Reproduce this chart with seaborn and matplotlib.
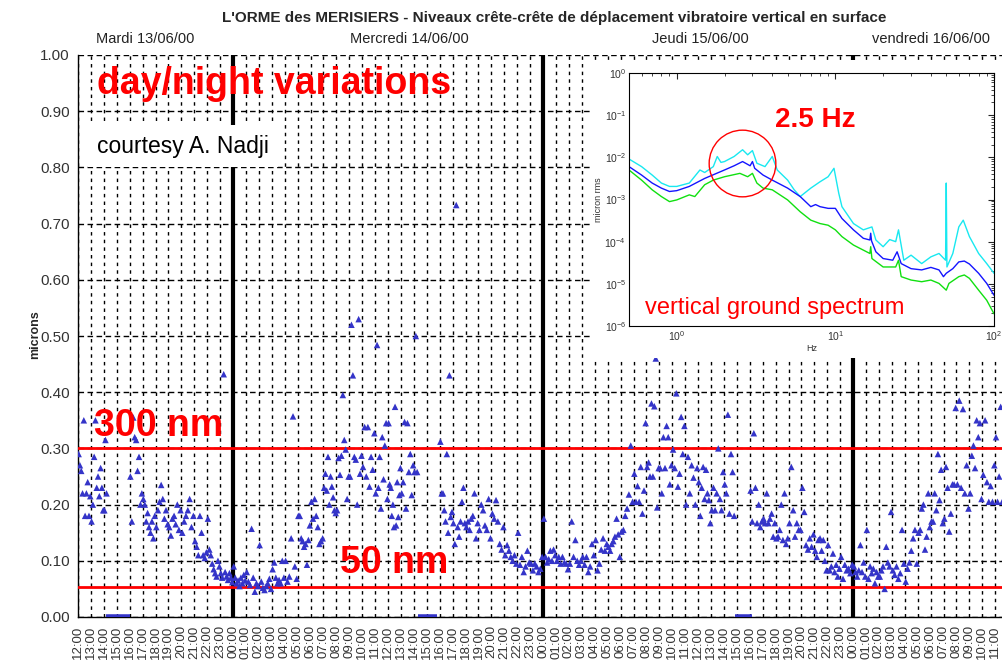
import numpy as np
import pandas as pd
import seaborn as sns
import matplotlib.pyplot as plt
from matplotlib.patches import Rectangle
from matplotlib.ticker import FixedLocator, LogLocator, NullFormatter

# peak-to-peak vertical displacement (microns), one list per hour, starting Tue 13/06 12:00
tue_pm = [
    [0.29, 0.27, 0.26, 0.22, 0.35, 0.18, 0.22, 0.24, 0.18, 0.215],
    [0.17, 0.20, 0.285, 0.35, 0.23, 0.25, 0.215, 0.265, 0.23, 0.19],
    [0.19, 0.315, 0.22],
    [],
    [0.25, 0.17, 0.355, 0.32, 0.315, 0.26, 0.285, 0.20, 0.22],
    [0.21, 0.20, 0.17, 0.185, 0.16, 0.15, 0.17, 0.14, 0.18],
    [0.16, 0.19, 0.205, 0.235, 0.21, 0.175, 0.19, 0.165],
    [0.16, 0.145, 0.175, 0.18, 0.165, 0.20, 0.155, 0.19],
    [0.15, 0.17, 0.18, 0.19, 0.21, 0.16, 0.18],
    [0.135, 0.125, 0.11, 0.18, 0.15, 0.11, 0.105, 0.115],
    [0.175, 0.12, 0.11, 0.095, 0.085, 0.078, 0.072, 0.10, 0.09],
    [0.078, 0.07, 0.432, 0.08, 0.072, 0.066, 0.078, 0.07, 0.062],
]
wed = [
    [0.09, 0.07, 0.06, 0.065, 0.055, 0.07, 0.06, 0.075, 0.065],
    [0.08, 0.063, 0.057, 0.157, 0.07, 0.045, 0.06, 0.055],
    [0.128, 0.063, 0.052, 0.048, 0.055, 0.06, 0.068, 0.05],
    [0.085, 0.097, 0.07, 0.06, 0.066, 0.06, 0.10, 0.07],
    [0.10, 0.063, 0.072, 0.14, 0.357, 0.09, 0.068],
    [0.18, 0.18, 0.14, 0.135, 0.125, 0.13, 0.093, 0.137, 0.163],
    [0.205, 0.175, 0.21, 0.18, 0.16, 0.13, 0.135, 0.14],
    [0.23, 0.255, 0.225, 0.285, 0.20, 0.25, 0.232, 0.213, 0.19, 0.185],
    [0.19, 0.283, 0.253, 0.287, 0.395, 0.315, 0.298, 0.21, 0.25],
    [0.25, 0.52, 0.43, 0.285, 0.28, 0.20, 0.53, 0.255, 0.287],
    [0.267, 0.338, 0.25, 0.338, 0.232, 0.285, 0.262, 0.327],
    [0.22, 0.484, 0.23, 0.285, 0.193, 0.32, 0.245, 0.305, 0.345, 0.21],
    [0.345, 0.236, 0.23, 0.18, 0.20, 0.16, 0.374, 0.163, 0.24, 0.178, 0.217, 0.265],
    [0.22, 0.24, 0.347, 0.193, 0.345, 0.258, 0.29, 0.217, 0.27],
    [0.258, 0.50, 0.258],
    [],
    [0.312, 0.22, 0.22, 0.19, 0.17, 0.29, 0.15, 0.43, 0.178, 0.187],
    [0.167, 0.13, 0.733, 0.16, 0.143, 0.17, 0.205, 0.23, 0.167],
    [0.16, 0.17, 0.155, 0.175, 0.18, 0.22, 0.14, 0.167],
    [0.155, 0.20, 0.19, 0.163, 0.155, 0.21, 0.14],
    [0.184, 0.175, 0.208, 0.17, 0.13, 0.12, 0.16],
    [0.11, 0.128, 0.118, 0.107, 0.10, 0.11, 0.095],
    [0.15, 0.093, 0.107, 0.08, 0.09, 0.118, 0.097],
    [0.095, 0.083, 0.095, 0.09, 0.08, 0.086, 0.107],
]
thu = [
    [0.175, 0.107, 0.097, 0.103, 0.118, 0.10, 0.12, 0.11],
    [0.10, 0.107, 0.095, 0.107, 0.097, 0.095, 0.085],
    [0.095, 0.17, 0.107, 0.137, 0.10, 0.093, 0.10],
    [0.107, 0.093, 0.107, 0.08, 0.09, 0.13, 0.11],
    [0.137, 0.083, 0.095, 0.12, 0.14, 0.118, 0.13],
    [0.125, 0.118, 0.13, 0.135, 0.143, 0.175, 0.147, 0.107],
    [0.152, 0.155, 0.18, 0.193, 0.218, 0.305, 0.205],
    [0.255, 0.205, 0.233, 0.205, 0.267, 0.184, 0.225, 0.345],
    [0.267, 0.275, 0.25, 0.38, 0.25, 0.375, 0.46, 0.195, 0.265],
    [0.265, 0.22, 0.32, 0.265, 0.34, 0.32, 0.236, 0.27],
    [0.298, 0.265, 0.398, 0.232, 0.255, 0.356, 0.29, 0.34],
    [0.20, 0.285, 0.22, 0.27, 0.248, 0.20, 0.265],
    [0.24, 0.18, 0.23, 0.267, 0.21, 0.262, 0.22, 0.208, 0.167],
    [0.19, 0.23, 0.19, 0.22, 0.30, 0.21, 0.19, 0.258],
    [0.236, 0.22, 0.36, 0.184, 0.29, 0.258, 0.18],
    [],
    [0.225, 0.17, 0.327, 0.23, 0.167, 0.20, 0.16, 0.17],
    [0.175, 0.167, 0.22, 0.167, 0.175, 0.184, 0.143, 0.167],
    [0.14, 0.143, 0.155, 0.20, 0.137, 0.22, 0.13, 0.14],
    [0.167, 0.267, 0.19, 0.143, 0.167, 0.155, 0.155],
    [0.23, 0.187, 0.128, 0.12, 0.14, 0.125, 0.147],
    [0.118, 0.107, 0.137, 0.14, 0.118, 0.137, 0.10, 0.083],
    [0.128, 0.083, 0.09, 0.113, 0.08, 0.093, 0.072, 0.086],
    [0.107, 0.068, 0.093, 0.083, 0.086, 0.078, 0.093],
]
fri_am = [
    [0.09, 0.08, 0.072, 0.083, 0.128, 0.08, 0.097, 0.072],
    [0.155, 0.068, 0.09, 0.078, 0.086, 0.06, 0.08, 0.072],
    [0.072, 0.083, 0.09, 0.05, 0.125, 0.097, 0.09, 0.187],
    [0.083, 0.075, 0.09, 0.068, 0.078, 0.155, 0.095],
    [0.063, 0.086, 0.097, 0.118, 0.14, 0.155, 0.095],
    [0.15, 0.155, 0.193, 0.20, 0.12, 0.143, 0.22, 0.16],
    [0.17, 0.17, 0.22, 0.19, 0.29, 0.208, 0.262, 0.167],
    [0.175, 0.267, 0.23, 0.152, 0.184, 0.236, 0.236, 0.372],
    [0.236, 0.385, 0.23, 0.37, 0.22, 0.27, 0.193],
    [0.22, 0.287, 0.305, 0.265, 0.35, 0.32, 0.345, 0.21],
    [0.253, 0.35, 0.24, 0.205, 0.233, 0.205, 0.27],
    [0.32, 0.205, 0.25, 0.374, 0.205],
]
# part of the hour that holds readings (data gaps / cut at the right edge)
hour_span = {2: 0.25, 26: 0.3, 50: 0.85, 71: 0.6}
# recorder gaps plotted at zero
gap_start = [2.2, 26.3, 50.85]
gap_end = [4.0, 27.8, 52.15]

hour_labels = [f"{(12 + h) % 24:02d}:00" for h in range(72)]
y_ticks = [0.0, 0.1, 0.2, 0.3, 0.4, 0.5, 0.6, 0.7, 0.8, 0.9, 1.0]
day_labels = ["Mardi 13/06/00", "Mercredi 14/06/00", "Jeudi 15/06/00", "vendredi 16/06/00"]

# inset: vertical ground spectrum, log10(micron rms)
cyan_f = [0.5, 0.6, 0.7, 0.8, 0.9, 1.0, 1.2, 1.4, 1.5, 1.7, 1.8, 1.9, 2.0, 2.3, 2.6, 2.8, 3.0, 3.2,
          3.6, 4.0, 4.3, 5.0, 5.5, 6.0, 7.0, 8.0, 9.0, 9.8, 10.5, 11, 13, 15, 17, 18, 20, 22, 24,
          25, 27, 30, 35, 40, 45, 49.5, 50, 50.5, 55, 60, 64, 70, 80, 90, 100]
cyan_log = [-2.04, -2.22, -2.42, -2.61, -2.69, -2.69, -2.61, -2.30, -2.36, -2.22, -1.98, -2.12,
            -2.10, -1.98, -1.82, -1.94, -1.84, -2.14, -2.22, -1.98, -2.30, -2.54, -2.77, -2.93,
            -2.73, -2.58, -2.46, -2.26, -2.85, -3.17, -3.57, -3.72, -3.65, -3.96, -4.12, -3.95,
            -4.00, -3.72, -4.44, -4.32, -4.52, -4.36, -4.28, -4.44, -2.61, -4.60, -4.28, -3.65,
            -3.49, -3.88, -4.28, -4.52, -4.75]
blue_f = [0.5, 0.6, 0.7, 0.8, 0.9, 1.0, 1.2, 1.5, 2.0, 2.3, 2.6, 2.9, 3.0, 3.1, 3.5, 4.0, 5.0, 6.0,
          7.0, 7.5, 8.0, 9.0, 10, 11, 13, 15, 16.5, 16.7, 16.9, 18, 20, 23, 24.5, 26, 30, 35, 40,
          45, 48, 50, 55, 60, 65, 70, 80, 90, 100]
blue_log = [-2.22, -2.42, -2.61, -2.73, -2.81, -2.79, -2.69, -2.50, -2.30, -2.20, -2.10, -2.20,
            -2.10, -2.26, -2.42, -2.54, -2.73, -2.93, -3.17, -3.12, -3.17, -3.21, -3.21, -3.45,
            -3.72, -3.92, -3.96, -3.80, -3.98, -4.24, -4.40, -4.44, -4.24, -4.52, -4.64, -4.67,
            -4.61, -4.67, -4.83, -4.75, -4.64, -4.48, -4.46, -4.53, -4.75, -4.99, -5.27]
green_f = [0.5, 0.6, 0.7, 0.8, 0.9, 1.0, 1.2, 1.3, 1.5, 1.7, 2.0, 2.5, 2.8, 3.0, 3.2, 3.5, 4.0,
           5.0, 6.0, 7.0, 8.0, 9.0, 10, 11, 13, 15, 16.5, 16.7, 17, 20, 24, 25, 26, 30, 35, 40,
           45, 50, 52, 60, 65, 70, 80, 90, 100]
green_log = [-2.30, -2.54, -2.77, -2.93, -3.05, -3.01, -2.89, -2.93, -2.65, -2.54, -2.46, -2.38,
             -2.46, -2.38, -2.61, -2.73, -2.77, -3.01, -3.29, -3.49, -3.57, -3.61, -3.72, -3.88,
             -4.08, -4.20, -4.28, -4.12, -4.40, -4.60, -4.60, -4.44, -4.83, -4.91, -4.95, -4.91,
             -4.99, -5.15, -4.99, -4.83, -4.79, -4.87, -5.15, -5.39, -5.71]

sns.set_style("white")
plt.rcParams['font.family'] = ['Liberation Sans', 'DejaVu Sans']

# one row per reading, spread evenly inside its hour
rows = []
for start, day in [(0, tue_pm), (12, wed), (36, thu), (60, fri_am)]:
    for k, vals in enumerate(day):
        h = start + k
        span = hour_span.get(h, 1.0)
        for i, v in enumerate(vals):
            rows.append((h + (i + 0.5) / len(vals) * span, v))
df = pd.DataFrame(rows, columns=['hour', 'microns'])

W, H = 1003, 660
fig = plt.figure(figsize=(W / 100, H / 100), dpi=100)
ax = fig.add_axes([78 / W, 43 / H, 925 / W, 562 / H])
ax.set_zorder(0)

sns.scatterplot(data=df, x='hour', y='microns', marker='^', s=22, color='#3434c8',
                edgecolor='none', ax=ax, zorder=4, legend=False)
ax.hlines([0] * len(gap_start), gap_start, gap_end, color='#3434c8', lw=4, zorder=4)

ax.set_xlim(0, 71.6)
ax.set_ylim(0, 1.0)
ax.xaxis.set_major_locator(FixedLocator(range(72)))
ax.set_xticklabels(hour_labels, rotation=90, fontsize=9.5, color='#333333')
ax.yaxis.set_major_locator(FixedLocator(y_ticks))
ax.set_yticklabels([f"{v:.2f}" for v in y_ticks], fontsize=11, color='#333333')
ax.tick_params(axis='both', direction='out', length=4, width=1, color='black', pad=2)
ax.grid(axis='x', color='black', linestyle=(0, (2.5, 3)), lw=1)
ax.grid(axis='y', color='black', linestyle=(0, (4, 2.5)), lw=1)
ax.set_axisbelow(True)
for s in ['top', 'right']:
    ax.spines[s].set_visible(False)
for s in ['left', 'bottom']:
    ax.spines[s].set_color('black')
    ax.spines[s].set_linewidth(1)
ax.set_xlabel('')
ax.set_ylabel('')

for midnight in [12, 36, 60]:
    ax.axvline(midnight, color='black', lw=3, zorder=3)
ax.axhline(0.30, color='red', lw=2, zorder=3)
ax.axhline(0.053, color='red', lw=2, zorder=3)

# white panel under the inset
fig.patches.append(Rectangle((590 / W, 1 - 358 / H), 413 / W, 298 / H, transform=fig.transFigure,
                             facecolor='white', edgecolor='none', zorder=1))

axi = fig.add_axes([629 / W, 1 - 326 / H, 365 / W, 253 / H], facecolor='white')
axi.set_zorder(2)
sns.lineplot(x=cyan_f, y=10 ** np.array(cyan_log), color='#18e8f0', lw=1, ax=axi, estimator=None, sort=False)
sns.lineplot(x=blue_f, y=10 ** np.array(blue_log), color='#1414ff', lw=1, ax=axi, estimator=None, sort=False)
sns.lineplot(x=green_f, y=10 ** np.array(green_log), color='#10e010', lw=1, ax=axi, estimator=None, sort=False)
axi.set_xscale('log')
axi.set_yscale('log')
axi.set_xlim(0.5, 100)
axi.set_ylim(1e-6, 1)
axi.yaxis.set_major_locator(LogLocator(base=10, numticks=10))
axi.yaxis.set_minor_locator(LogLocator(base=10, subs=np.arange(2, 10), numticks=10))
axi.yaxis.set_minor_formatter(NullFormatter())
axi.tick_params(which='both', direction='in', top=True, right=True, labelsize=7.5,
                labelcolor='#333333', pad=2)
axi.tick_params(which='major', length=4)
axi.tick_params(which='minor', length=2)
for s in axi.spines.values():
    s.set_color('black')
    s.set_linewidth(0.8)
axi.set_xlabel('Hz', fontsize=6.5, labelpad=1, color='#333333')
axi.set_ylabel('micron rms', fontsize=6.5, labelpad=1, color='#333333')
axi.plot([2.59], [10 ** -2.14], 'o', ms=48, mfc='none', mec='red', mew=1)

# texts
fig.text(554 / W, 1 - 18 / H,
         "L'ORME des MERISIERS - Niveaux crête-crête de déplacement vibratoire vertical en surface",
         ha='center', va='center', fontsize=11, fontweight='bold')
for label, cx in zip(day_labels, [145, 409, 700, 931]):
    fig.text(cx / W, 1 - 39 / H, label, ha='center', va='center', fontsize=10.5, color='#222222')
fig.text(35 / W, 1 - 335 / H, 'microns', rotation=90, ha='center', va='center',
         fontsize=9, fontweight='bold')
fig.text(97 / W, 1 - 84 / H, 'day/night variations', ha='left', va='center', fontsize=27,
         fontweight='bold', color='red', zorder=5)
fig.text(97 / W, 1 - 146 / H, 'courtesy A. Nadji', ha='left', va='center', fontsize=16.5,
         color='black', zorder=5,
         bbox=dict(boxstyle='square,pad=0.4', facecolor='white', edgecolor='none'))
fig.text(94 / W, 1 - 426 / H, '300 nm', ha='left', va='center', fontsize=27,
         fontweight='bold', color='red', zorder=5)
fig.text(340 / W, 1 - 563 / H, '50 nm', ha='left', va='center', fontsize=27,
         fontweight='bold', color='red', zorder=5)
fig.text(775 / W, 1 - 120 / H, '2.5 Hz', ha='left', va='center', fontsize=20,
         fontweight='bold', color='red', zorder=5)
fig.text(645 / W, 1 - 308 / H, 'vertical ground spectrum', ha='left', va='center', fontsize=17,
         color='red', zorder=5)

fig.savefig('out.png', dpi=100)
